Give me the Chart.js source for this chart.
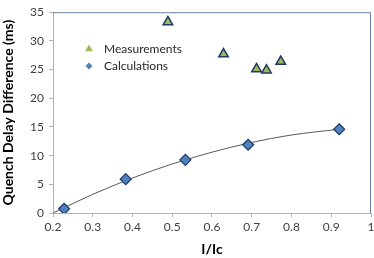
<!DOCTYPE html>
<html>
<head>
<meta charset="utf-8">
<script src="https://cdn.jsdelivr.net/npm/chart.js@4/dist/chart.umd.min.js"></script>
<style>
  html, body { margin: 0; padding: 0; background: #fff; overflow: hidden; }
  #wrap { width: 374px; height: 258px; overflow: hidden; }
</style>
</head>
<body>
<div id="wrap"><canvas id="c" width="378" height="258"></canvas></div>
<script>
// Data
const measX = [0.489, 0.629, 0.712, 0.737, 0.773];
const measY = [33.3, 27.7, 25.1, 24.9, 26.4];
const calcX = [0.228, 0.383, 0.533, 0.691, 0.920];
const calcY = [0.74, 5.9, 9.26, 11.9, 14.6];
// Trendline
const trendX = [0.2, 0.3, 0.4, 0.5, 0.6, 0.7, 0.8, 0.92];
const trendY = [0.0, 3.25, 6.1, 8.55, 10.6, 12.3, 13.6, 14.6];
const xTicks = [0.2, 0.3, 0.4, 0.5, 0.6, 0.7, 0.8, 0.9, 1];
const yTicks = [0, 5, 10, 15, 20, 25, 30, 35];
const seriesNames = ['Measurements', 'Calculations'];
const xTitle = 'I/Ic';
const yTitle = 'Quench Delay Difference (ms)';

const toPts = (xs, ys) => xs.map((x, i) => ({ x: x, y: ys[i] }));
const FONT = 'Lato, "Open Sans", "Liberation Sans", sans-serif';

const frameAndLegend = {
  id: 'frameAndLegend',
  afterDatasetsDraw(chart) {
    const { ctx, chartArea: a } = chart;
    ctx.save();
    ctx.strokeStyle = '#6a7fa0';
    ctx.lineWidth = 1;
    ctx.beginPath();
    ctx.moveTo(a.left, a.top + 0.5);
    ctx.lineTo(a.right - 0.5, a.top + 0.5);
    ctx.lineTo(a.right - 0.5, a.bottom);
    ctx.stroke();
    ctx.restore();
  },
  afterDraw(chart) {
    const { ctx } = chart;
    const items = [
      { ds: chart.data.datasets[0], y: 49 },
      { ds: chart.data.datasets[1], y: 66 }
    ];
    ctx.save();
    items.forEach(it => {
      ctx.fillStyle = it.ds.pointBackgroundColor;
      ctx.strokeStyle = it.ds.pointBorderColor;
      ctx.lineWidth = 0;
      Chart.helpers.drawPoint(ctx, {
        pointStyle: it.ds.pointStyle,
        radius: it.ds.pointStyle === 'triangle' ? 4.5 : 3.5,
        rotation: 0,
        borderWidth: 0
      }, 89, it.y);
      ctx.fillStyle = '#262626';
      ctx.font = '12px ' + FONT;
      ctx.textBaseline = 'middle';
      ctx.textAlign = 'left';
      ctx.fillText(it.ds.label, 104, it.y);
    });
    ctx.restore();
  }
};

new Chart(document.getElementById('c'), {
  type: 'scatter',
  data: {
    datasets: [
      {
        label: seriesNames[0],
        data: toPts(measX, measY),
        pointStyle: 'triangle',
        pointRadius: 5.5,
        pointBackgroundColor: '#9bbb59',
        pointBorderColor: '#1f3864',
        pointBorderWidth: 1.5,
        order: 0
      },
      {
        label: seriesNames[1],
        data: toPts(calcX, calcY),
        pointStyle: 'rectRot',
        pointRadius: 5.5,
        pointBackgroundColor: '#4f81bd',
        pointBorderColor: '#1f3864',
        pointBorderWidth: 1.2,
        order: 1
      },
      {
        label: 'trend',
        data: toPts(trendX, trendY),
        showLine: true,
        borderColor: '#595959',
        borderWidth: 1,
        pointRadius: 0,
        cubicInterpolationMode: 'monotone',
        order: 2
      }
    ]
  },
  plugins: [frameAndLegend],
  options: {
    responsive: false,
    animation: false,
    devicePixelRatio: 1,
    layout: { padding: { left: 0, right: 1, top: 10, bottom: 0 } },
    plugins: {
      legend: { display: false },
      tooltip: { enabled: false }
    },
    scales: {
      x: {
        type: 'linear',
        min: 0.2, max: 1,
        afterBuildTicks: s => { s.ticks = xTicks.map(v => ({ value: v })); },
        afterFit: s => { s.height = 45; },
        ticks: {
          font: { size: 12, family: FONT },
          color: '#404040',
          padding: 3,
          maxRotation: 0,
          callback: v => String(v)
        },
        grid: { drawOnChartArea: false, drawTicks: true, tickLength: 4, color: '#b3b3b3' },
        border: { color: '#b3b3b3', width: 1 },
        title: {
          display: true,
          text: xTitle,
          font: { size: 14, weight: 'bold', family: FONT },
          color: '#000',
          padding: { top: 1, bottom: 0 }
        }
      },
      y: {
        type: 'linear',
        min: 0, max: 35,
        afterBuildTicks: s => { s.ticks = yTicks.map(v => ({ value: v })); },
        afterFit: s => { s.width = 53; },
        ticks: {
          font: { size: 12, family: FONT },
          color: '#404040',
          padding: 5
        },
        grid: { drawOnChartArea: false, drawTicks: true, tickLength: 4, color: '#b3b3b3' },
        border: { color: '#b3b3b3', width: 1 },
        title: {
          display: true,
          text: yTitle,
          font: { size: 14, weight: 'bold', family: FONT },
          color: '#000',
          padding: { top: 0, bottom: 2 }
        }
      }
    }
  }
});
</script>
</body>
</html>
